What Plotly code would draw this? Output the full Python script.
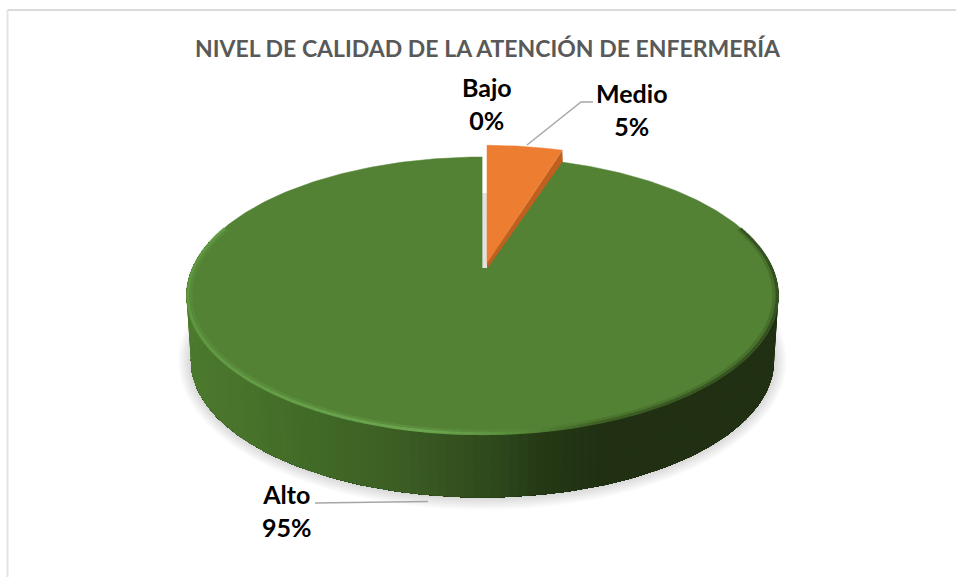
import numpy as np
import plotly.graph_objects as go

categories = ["Bajo", "Medio", "Alto"]
values = [0, 5, 95]
title_text = "NIVEL DE CALIDAD DE LA ATENCIÓN DE ENFERMERÍA"
colors = {"Medio": "#ED7D31", "Alto": "#548235"}

W, H = 956, 577
CX, AY, RX, A, K = 482.5, 268.0, 290.0, 133.2, 0.2
DEPTH, SHR = 65.0, 0.985
MID = 296.0


def proj(theta, scale=1.0):
    u, v = np.sin(theta) * scale, np.cos(theta) * scale
    d = 1 + K * v
    return CX + RX * u / d, AY - A * v / d


def lower(x, y):
    return CX + (x - CX) * SHR, MID + (y - MID) * SHR + DEPTH


def poly(x, y, color, line=None, lw=0):
    return go.Scatter(x=list(x), y=list(y), mode="lines", fill="toself", fillcolor=color,
                      line=dict(color=line or color, width=lw), hoverinfo="skip", showlegend=False)


def lerp_color(stops, t):
    xs = [s[0] for s in stops]
    return "rgb(%d,%d,%d)" % tuple(np.interp(t, xs, [s[1][i] for s in stops]) for i in range(3))


fractions = np.array(values) / sum(values)
edges = np.concatenate([[0], np.cumsum(fractions)]) * 2 * np.pi
medio_end = edges[2]
alto_start, alto_end = edges[2], edges[3]

fig = go.Figure()

# soft ground shadow
full = np.linspace(0, 2 * np.pi, 361)
fx, fy = proj(full)
lx, ly = lower(fx, fy)
for grow in range(13, 0, -1):
    sx = CX + (lx - CX) * (1 + grow / 292)
    sy = (MID + DEPTH) + (ly - (MID + DEPTH)) * (1 + grow / 137)
    fig.add_trace(poly(sx, sy, "rgba(0,0,0,0.012)"))

# side wall, coloured across the width; painted right-to-left so no seams show
side_stops = [(190, (76, 122, 46)), (300, (67, 108, 40)), (400, (60, 94, 36)), (490, (47, 74, 28)),
              (540, (38, 58, 22)), (600, (33, 49, 19)), (780, (33, 48, 19))]
th = np.linspace(np.pi / 2 - 0.2, 3 * np.pi / 2 + 0.2, 141)
tx, ty = proj(th)
bx, by = lower(tx, ty)
for i in range(len(th) - 1):
    c = lerp_color(side_stops, (tx[i] + tx[i + 1]) / 2)
    fig.add_trace(poly(np.r_[tx[i:], bx[i:][::-1]], np.r_[ty[i:], by[i:][::-1]], c))

# green top surface
t_alto = np.linspace(alto_start, alto_end, 361)
gx, gy = proj(t_alto)
fig.add_trace(poly(np.r_[CX, gx, CX], np.r_[AY, gy, AY], colors["Alto"], colors["Alto"], 0.5))

# bevel along the front rim of the top surface
rim_stops = [(186, (98, 156, 68)), (300, (106, 166, 78)), (430, (112, 172, 84)), (520, (90, 142, 60)),
             (600, (60, 92, 36)), (780, (48, 74, 30))]
th2 = np.linspace(np.pi / 2 - 0.32, 3 * np.pi / 2 + 0.32, 181)
rx_, ry_ = proj(th2)
for s, w, op in [(0.988, 4.5, 0.3), (0.996, 3.0, 0.85)]:
    for i in range(len(th2) - 1):
        c = lerp_color(rim_stops, (rx_[i] + rx_[i + 1]) / 2)
        rx2, ry2 = proj(th2[i:i + 2], s)
        fig.add_trace(go.Scatter(x=rx2, y=ry2, mode="lines", line=dict(color=c, width=w), opacity=op,
                                 hoverinfo="skip", showlegend=False))

# pale inner wall in the gap left by the pulled-out slice
ox0, oy0 = CX + 4.5, AY - 5
gap_x = [CX, ox0, ox0, CX]
gap_y = [AY, AY, AY - 75, AY - 75]
fig.add_trace(poly(gap_x, gap_y, "#E2E2E2"))
fig.add_trace(poly([CX, ox0, ox0, CX], [AY - 75, AY - 75, AY - 112, AY - 112], "#FFFFFF"))

# orange slice
t_m = np.linspace(edges[1], medio_end, 31)
mx, my = proj(t_m)
ox = ox0 + (mx - CX) * 1.0
oy = oy0 + (my - AY) * 1.06
fig.add_trace(poly([ox0, ox[-1], ox[-1] + 0.5, ox0], [oy0, oy[-1], oy[-1] + 11, oy0 + 6], "#C15F1E"))
fig.add_trace(poly(np.r_[ox0, ox, ox0], np.r_[oy0, oy, oy0], colors["Medio"], colors["Medio"], 0.5))

# leader lines
line_c = "#A6A6A6"
fig.add_trace(go.Scatter(x=[527, 581, 593], y=[145, 102, 102], mode="lines", line=dict(color=line_c, width=1.4),
                         hoverinfo="skip", showlegend=False))
fig.add_trace(go.Scatter(x=[315, 428], y=[503, 501.5], mode="lines", line=dict(color=line_c, width=1.4),
                         hoverinfo="skip", showlegend=False))

label_pos = {"Bajo": (487, 103), "Medio": (632, 109.5), "Alto": (287, 510.5)}
for cat, val in zip(categories, values):
    xl, yl = label_pos[cat]
    fig.add_annotation(x=xl, y=yl, text=f"<b>{cat}<br>{val}%</b>", showarrow=False, align="center",
                       font=dict(family="Lato", size=25, color="#000000"))

fig.add_annotation(x=488, y=48, text=f"<b>{title_text}</b>", showarrow=False,
                   font=dict(family="Lato", size=23, color="#595959"))

# chart frame: top and left edges only are in view
fig.add_trace(go.Scatter(x=[7.5, 7.5], y=[577, 10], mode="lines",
                         line=dict(color="#E4E4E4", width=2), hoverinfo="skip", showlegend=False))
fig.add_trace(go.Scatter(x=[7.5, 956], y=[10, 10], mode="lines",
                         line=dict(color="#DADADA", width=2), hoverinfo="skip", showlegend=False))

fig.update_layout(
    width=W, height=H, margin=dict(l=0, r=0, t=0, b=0), paper_bgcolor="white", plot_bgcolor="white",
    showlegend=False,
    xaxis=dict(range=[0, W], visible=False, fixedrange=True),
    yaxis=dict(range=[H, 0], visible=False, fixedrange=True),
)
fig.write_html("out.html", config={"displayModeBar": False},
               post_script="document.body.style.margin='0';document.body.style.overflow='hidden';")
